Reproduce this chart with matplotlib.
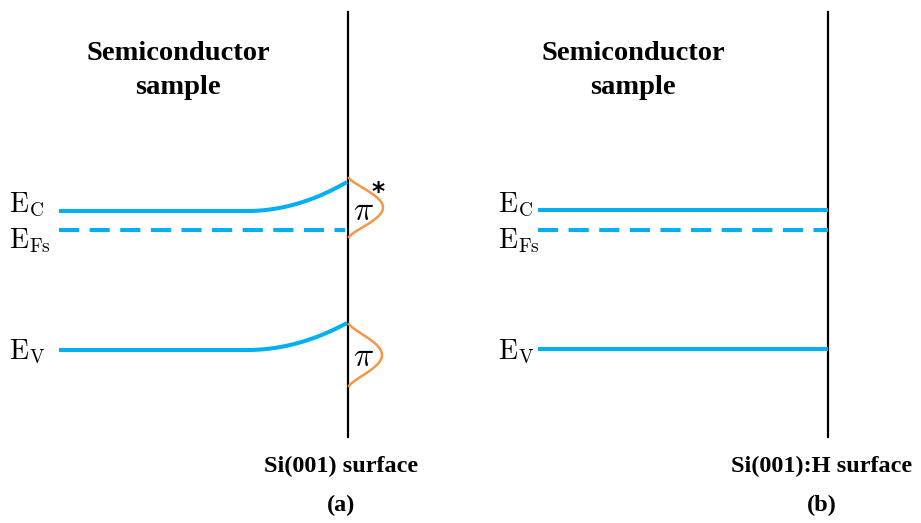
import numpy as np
import matplotlib.pyplot as plt

plt.rcParams['mathtext.fontset'] = 'cm'

W, H = 921, 523

# energy levels (y in px, down positive) for the two panels
level_names = ['E_C', 'E_Fs', 'E_V']
levels_a = [211, 230, 350]
levels_b = [210, 230, 349]
# upward band bending at the clean surface (px)
bending_a = [29, 0, 27]

surface_x = [348, 828]
band_start = [59, 538]
bend_start = 247

# surface states pi* and pi: (top, bottom, width)
states = [(178, 237, 34), (324, 386, 33)]

blue = '#00B0F0'
orange = '#F79646'
lw = 2.9

fig = plt.figure(figsize=(W / 100, H / 100), dpi=100)
ax = fig.add_axes([0, 0, 1, 1])
ax.set_xlim(0, W)
ax.set_ylim(H, 0)
ax.axis('off')

# surfaces
for xs in surface_x:
    ax.plot([xs, xs], [12, 437], color='black', lw=1.6)

# panel (a): bands bent upward near the surface
for name, y0, db in zip(level_names, levels_a, bending_a):
    if name == 'E_Fs':
        ax.plot([band_start[0], surface_x[0] - 3], [y0, y0], color=blue, lw=lw,
                dashes=(5, 2.6))
        continue
    ax.plot([band_start[0], bend_start], [y0, y0], color=blue, lw=lw,
            solid_capstyle='butt')
    t = np.linspace(0, 1, 60)
    xc = bend_start + t * (surface_x[0] - 1 - bend_start)
    ax.plot(xc, y0 - db * t ** 2, color=blue, lw=lw, solid_capstyle='butt')

# panel (b): flat bands
for name, y0 in zip(level_names, levels_b):
    kw = dict(dashes=(5, 2.6)) if name == 'E_Fs' else dict(solid_capstyle='butt')
    ax.plot([band_start[1], surface_x[1]], [y0, y0], color=blue, lw=lw, **kw)

# surface state bumps
for top, bot, wd in states:
    s = np.linspace(0, 1, 80)
    ax.plot(surface_x[0] + 1 + wd * np.sin(np.pi * s) ** 1.3,
            top + s * (bot - top), color=orange, lw=1.8)

ax.text(363, 210, r'$\pi$', fontsize=24, ha='center', va='center')
ax.text(378, 192, '*', fontsize=18, ha='center', va='center',
        family='DejaVu Sans', fontweight='bold')
ax.text(363, 357, r'$\pi$', fontsize=24, ha='center', va='center')

# level labels
labels = {'E_C': r'$\mathrm{E}_{\mathrm{C}}$', 'E_Fs': r'$\mathrm{E}_{\mathrm{Fs}}$',
          'E_V': r'$\mathrm{E}_{\mathrm{V}}$'}
label_y = {'E_C': 205, 'E_Fs': 241, 'E_V': 352}
for x0 in [9, 498]:
    for name in level_names:
        ax.text(x0, label_y[name], labels[name], fontsize=20, ha='left',
                va='center')

serif = dict(family='Liberation Serif', fontweight='bold')
for xc in [178, 633]:
    ax.text(xc, 54, 'Semiconductor', fontsize=20.5, ha='center', va='center', **serif)
    ax.text(xc, 87, 'sample', fontsize=20.5, ha='center', va='center', **serif)

ax.text(341, 466, 'Si(001) surface', fontsize=17.5, ha='center', va='center', **serif)
ax.text(341, 505, '(a)', fontsize=17.5, ha='center', va='center', **serif)
ax.text(822, 466, 'Si(001):H surface', fontsize=17.5, ha='center', va='center', **serif)
ax.text(822, 505, '(b)', fontsize=17.5, ha='center', va='center', **serif)

fig.savefig('out.png', dpi=100)
